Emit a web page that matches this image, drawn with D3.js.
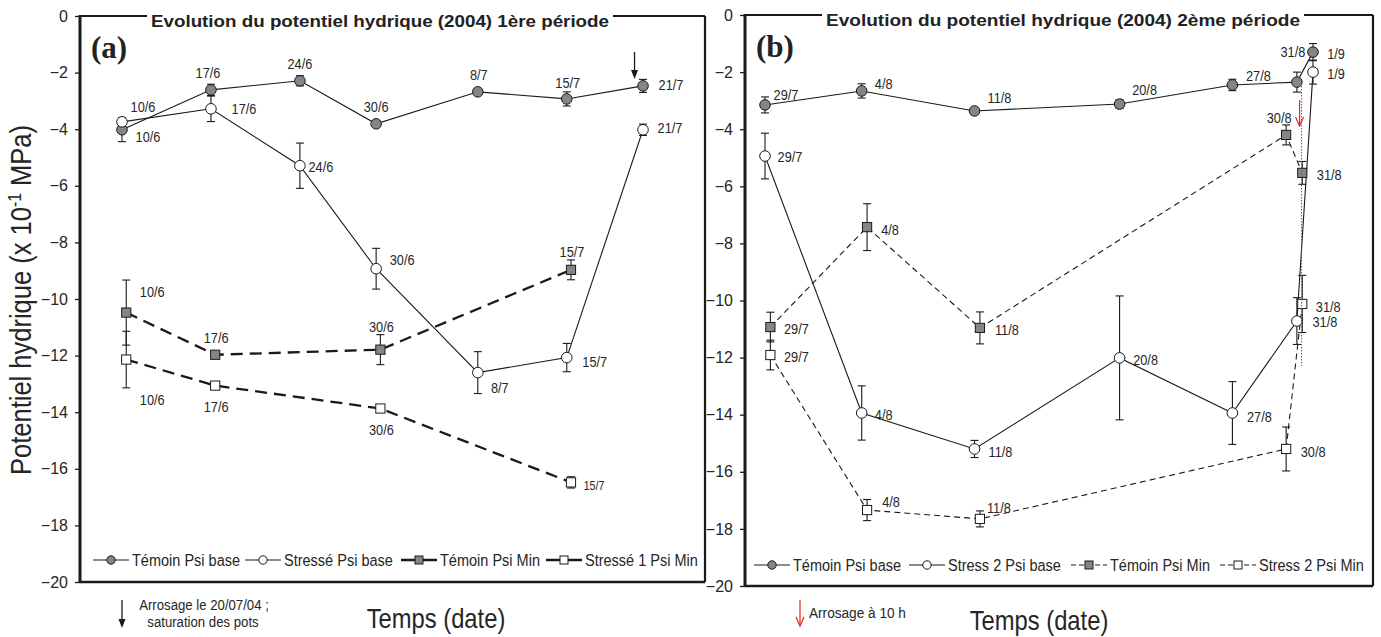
<!DOCTYPE html>
<html><head><meta charset="utf-8">
<script src="https://cdn.jsdelivr.net/npm/d3@7"></script>
<style>body{margin:0;background:#fff}</style>
</head><body>
<svg id="c" width="1381" height="637"></svg>
<script>
// ================= DATA =================
// Panel (a) – 1ère période
const datesBaseA   = ["2004-06-10","2004-06-17","2004-06-24","2004-06-30","2004-07-08","2004-07-15","2004-07-21"];
const labelsBaseA  = ["10/6","17/6","24/6","30/6","8/7","15/7","21/7"];
const temoinBaseA     = [-4.02,-2.61,-2.29,-3.81,-2.68,-2.93,-2.47];
const temoinBaseErrA  = [0.42,0.20,0.18,0.05,0.06,0.25,0.23];
const stresseBaseA    = [-3.74,-3.28,-5.29,-8.93,-12.60,-12.07,-4.02];
const stresseBaseErrA = [0.15,0.45,0.80,0.72,0.74,0.50,0.20];
const datesMinA    = ["2004-06-10","2004-06-17","2004-06-30","2004-07-15"];
const labelsMinA   = ["10/6","17/6","30/6","15/7"];
const temoinMinA      = [-10.48,-11.97,-11.79,-8.97];
const temoinMinErrA   = [1.15,0.10,0.53,0.35];
const stresseMinA     = [-12.14,-13.06,-13.87,-16.48];
const stresseMinErrA  = [1.00,0.10,0.12,0.20];
const legendA = ["Témoin Psi base","Stressé Psi base","Témoin Psi Min","Stressé 1 Psi Min"];
const titleA = "Evolution du potentiel hydrique (2004) 1ère période";
const wateringA = "2004-07-20";
const noteA = ["Arrosage le 20/07/04 ;","saturation des pots"];

// Panel (b) – 2ème période
const datesBaseB   = ["2004-07-29","2004-08-04","2004-08-11","2004-08-20","2004-08-27","2004-08-31","2004-09-01"];
const labelsBaseB  = ["29/7","4/8","11/8","20/8","27/8","31/8","1/9"];
const temoinBaseB     = [-3.15,-2.66,-3.36,-3.12,-2.45,-2.35,-1.30];
const temoinBaseErrB  = [0.28,0.25,0.10,0.15,0.20,0.35,0.30];
const stressBaseB     = [-4.94,-13.94,-15.20,-12.01,-13.94,-10.72,-2.00];
const stressBaseErrB  = [0.80,0.95,0.30,2.17,1.10,0.82,0.42];
const datesMinB    = ["2004-07-29","2004-08-04","2004-08-11","2004-08-30","2004-08-31"];
const labelsMinB   = ["29/7","4/8","11/8","30/8","31/8"];
const temoinMinB      = [-10.93,-7.43,-10.96,-4.20,-5.53];
const temoinMinErrB   = [0.52,0.82,0.56,0.35,0.40];
const stressMinB      = [-11.91,-17.34,-17.65,-15.20,-10.12];
const stressMinErrB   = [0.52,0.37,0.28,0.77,1.00];
const legendB = ["Témoin Psi base","Stress 2 Psi base","Témoin Psi Min","Stress 2 Psi Min"];
const titleB = "Evolution du potentiel hydrique (2004) 2ème période";
const wateringB = "2004-08-31";
const noteB = "Arrosage à 10 h";

const yTicks = [0,-2,-4,-6,-8,-10,-12,-14,-16,-18,-20];
const yTitle = "Potentiel hydrique (x 10";
const xTitle = "Temps (date)";

// ================= LAYOUT / STYLE =================
const svg = d3.select("#c");
const FS = "'Liberation Sans',Arial,sans-serif";
const SQ = 0.88;           // horizontal squeeze of the original's narrow lettering
const TXT = "#262626";
const GRAY = "#858585";
const parse = d3.timeParse("%Y-%m-%d");
const MIN_SHIFT_H = 8;     // Psi Min measured later in the day

function ntext(parent, x, y, str, size, anchor) {
  return parent.append("text")
    .attr("transform",`translate(${x},${y}) scale(${SQ},1)`)
    .attr("text-anchor",anchor||"start").attr("font-family",FS)
    .attr("font-size",size).attr("fill",TXT).text(str);
}

// label offsets [dx, dy(, size)] from the point (layout only)
const offTBA = [[26,7],[-3,-17],[0,-17],[0,-17],[1,-17],[1,-16],[28,-1]];
const offSBA = [[21,-15],[33,0],[21,1],[26,-9],[22,15],[28,4],[27,-2]];
const offTMA = [[26,-21],[1,-17],[1,-23],[1,-18]];
const offSMA = [[26,40],[1,21],[1,21],[23,3,12]];
const offTBB = [[21,-10],[22,-7],[25,-13],[25,-14],[26,-9],[-4,-30],[23,2]];
const offSBB = [[25,1],[22,2],[26,3],[26,2],[27,4],[28,1],[23,2]];
const offTMB = [[26,2],[23,3],[27,2],[-7,-17],[27,2]];
const offSMB = [[26,2],[24,-8],[19,-11],[27,3],[26,3]];

function drawPanel(p) {
  const g = svg.append("g");
  const x = d3.scaleTime().domain([parse(p.dates[0]), parse(p.dates[p.dates.length-1])]).range(p.xr);
  const y = d3.scaleLinear().domain([-20,0]).range([p.bottom, p.top]);
  const tMin = d => d3.timeHour.offset(parse(d), MIN_SHIFT_H);
  const tBase = d => parse(d);

  // frame
  const fr = g.append("g").attr("stroke","#1a1a1a").attr("fill","none");
  fr.append("line").attr("x1",p.left).attr("x2",p.titleL).attr("y1",p.top).attr("y2",p.top).attr("stroke-width",2.2);
  fr.append("line").attr("x1",p.titleR).attr("x2",p.right).attr("y1",p.top).attr("y2",p.top).attr("stroke-width",2.2);
  fr.append("line").attr("x1",p.right).attr("x2",p.right).attr("y1",p.top).attr("y2",p.bottom).attr("stroke-width",2.2);
  fr.append("line").attr("x1",p.left).attr("x2",p.right).attr("y1",p.bottom).attr("y2",p.bottom).attr("stroke-width",2.5);

  // y axis
  const ax = g.append("g").attr("transform",`translate(${p.left},0)`)
    .call(d3.axisLeft(y).tickValues(yTicks).tickSize(5).tickPadding(7).tickFormat(d3.format("d")));
  ax.select(".domain").remove();
  ax.selectAll(".tick line").attr("stroke","#1a1a1a").attr("stroke-width",1.3);
  ax.selectAll(".tick text").attr("font-family",FS).attr("font-size",16).attr("fill",TXT);
  g.append("line").attr("x1",p.left).attr("x2",p.left).attr("y1",p.top-1).attr("y2",p.bottom+1)
    .attr("stroke","#1a1a1a").attr("stroke-width",3);

  // title
  g.append("text").attr("x",(p.titleL+p.titleR)/2).attr("y",p.top+11).attr("text-anchor","middle")
    .attr("font-family",FS).attr("font-weight","bold").attr("font-size",17).attr("fill","#222")
    .attr("textLength",p.titleR-p.titleL-8).attr("lengthAdjust","spacingAndGlyphs").text(p.title);
  g.append("text").attr("x",p.left+11).attr("y",p.top+42).attr("font-family","'Liberation Serif','Times New Roman',serif")
    .attr("font-weight","bold").attr("font-size",31).attr("fill","#222").text(p.tag);

  const series = [
    {d:p.dates, v:p.tb, e:p.tbe, t:tBase, lab:p.labels, off:p.offTB, fill:GRAY, shape:"c", dash:null, w:1.1},
    {d:p.dates, v:p.sb, e:p.sbe, t:tBase, lab:p.labels, off:p.offSB, fill:"#fff", shape:"c", dash:null, w:1.1},
    {d:p.datesMin, v:p.tm, e:p.tme, t:tMin, lab:p.labelsMin, off:p.offTM, fill:GRAY, shape:"s", dash:p.minDash, w:p.minW},
    {d:p.datesMin, v:p.sm, e:p.sme, t:tMin, lab:p.labelsMin, off:p.offSM, fill:"#fff", shape:"s", dash:p.minDash, w:p.minW}
  ];
  const line = d3.line();
  series.forEach(s => {
    const pts = s.d.map((d,i)=>[x(s.t(d)), y(s.v[i])]);
    g.append("path").attr("d",line(pts)).attr("fill","none").attr("stroke","#1a1a1a")
      .attr("stroke-width",s.w).attr("stroke-dasharray",s.dash);
  });
  series.forEach(s => {
    s.d.forEach((d,i)=>{
      const cx = x(s.t(d)), y1 = y(s.v[i]+s.e[i]), y2 = y(s.v[i]-s.e[i]);
      const eg = g.append("g").attr("stroke","#1a1a1a").attr("stroke-width",1.1);
      eg.append("line").attr("x1",cx).attr("x2",cx).attr("y1",y1).attr("y2",y2);
      eg.append("line").attr("x1",cx-4).attr("x2",cx+4).attr("y1",y1).attr("y2",y1);
      eg.append("line").attr("x1",cx-4).attr("x2",cx+4).attr("y1",y2).attr("y2",y2);
    });
  });
  series.forEach(s => {
    s.d.forEach((d,i)=>{
      const cx = x(s.t(d)), cy = y(s.v[i]);
      if (s.shape==="c") g.append("circle").attr("cx",cx).attr("cy",cy).attr("r",5.3)
        .attr("fill",s.fill).attr("stroke","#1a1a1a").attr("stroke-width",1);
      else g.append("rect").attr("x",cx-4.6).attr("y",cy-4.6).attr("width",9.2).attr("height",9.2)
        .attr("fill",s.fill).attr("stroke","#1a1a1a").attr("stroke-width",1);
      const o = s.off[i];
      ntext(g, cx+o[0], cy+o[1]+5, s.lab[i], o[2]||14.5, "middle");
    });
  });

  // legend
  const lg = g.append("g");
  p.legend.forEach((name,i)=>{
    const lx = p.legX[i], ly = p.legY;
    const s = series[i];
    lg.append("line").attr("x1",lx).attr("x2",lx+36).attr("y1",ly).attr("y2",ly)
      .attr("stroke","#1a1a1a").attr("stroke-width",i>=2?p.legMinW:1.1).attr("stroke-dasharray",i>=2?p.legDash:null);
    if (s.shape==="c") lg.append("circle").attr("cx",lx+18).attr("cy",ly).attr("r",4.2)
      .attr("fill",s.fill).attr("stroke","#1a1a1a").attr("stroke-width",1);
    else lg.append("rect").attr("x",lx+14).attr("y",ly-4).attr("width",8).attr("height",8)
      .attr("fill",s.fill).attr("stroke","#1a1a1a").attr("stroke-width",1);
    ntext(lg, lx+39, ly+6, name, 16.5);
  });

  // x title
  ntext(g, p.xTitleX, p.xTitleY, xTitle, 27, "middle");
  return {g,x,y};
}

// ---- Panel (a)
const A = drawPanel({
  dates:datesBaseA, labels:labelsBaseA, datesMin:datesMinA, labelsMin:labelsMinA,
  tb:temoinBaseA, tbe:temoinBaseErrA, sb:stresseBaseA, sbe:stresseBaseErrA,
  tm:temoinMinA, tme:temoinMinErrA, sm:stresseMinA, sme:stresseMinErrA,
  offTB:offTBA, offSB:offSBA, offTM:offTMA, offSM:offSMA,
  xr:[122,643], left:80, right:705, top:16, bottom:582, titleL:147, titleR:613,
  title:titleA, tag:"(a)", minDash:"12,7", minW:2.3, legend:legendA,
  legX:[93,245,401,546], legY:560, legMinW:2.3, legDash:null, xTitleX:436, xTitleY:628
});
// watering arrows (a)
{
  const ax = A.x(d3.timeHour.offset(parse(wateringA),8));
  const gg = A.g.append("g").attr("stroke","#1a1a1a").attr("fill","#1a1a1a");
  gg.append("line").attr("x1",ax).attr("x2",ax).attr("y1",52).attr("y2",72).attr("stroke-width",1.3);
  gg.append("path").attr("d",`M${ax-3.5},70 L${ax+3.5},70 L${ax},79 Z`).attr("stroke","none");
  const bx = 122;
  gg.append("line").attr("x1",bx).attr("x2",bx).attr("y1",600).attr("y2",621).attr("stroke-width",1.3);
  gg.append("path").attr("d",`M${bx-3.5},619 L${bx+3.5},619 L${bx},628 Z`).attr("stroke","none");
  ntext(A.g, 204, 610, noteA[0], 15, "middle");
  ntext(A.g, 203, 627, noteA[1], 15, "middle");
}
// y title
{
  const t = svg.append("text").attr("transform",`translate(31,300) rotate(-90) scale(${SQ},1)`).attr("text-anchor","middle")
    .attr("font-family",FS).attr("font-size",29).attr("fill",TXT);
  t.append("tspan").text(yTitle);
  t.append("tspan").attr("dy",-10).attr("font-size",18).text("-1");
  t.append("tspan").attr("dy",10).text(" MPa)");
}

// ---- Panel (b)
const B = drawPanel({
  dates:datesBaseB, labels:labelsBaseB, datesMin:datesMinB, labelsMin:labelsMinB,
  tb:temoinBaseB, tbe:temoinBaseErrB, sb:stressBaseB, sbe:stressBaseErrB,
  tm:temoinMinB, tme:temoinMinErrB, sm:stressMinB, sme:stressMinErrB,
  offTB:offTBB, offSB:offSBB, offTM:offTMB, offSM:offSMB,
  xr:[765,1313], left:745, right:1373, top:15, bottom:586, titleL:822, titleR:1304,
  title:titleB, tag:"(b)", minDash:"6,4", minW:1.1, legend:legendB,
  legX:[754,909,1071,1220], legY:565, legMinW:1.1, legDash:"5,3", xTitleX:1039, xTitleY:630
});
{
  const rx = B.x(d3.timeHour.offset(parse(wateringB),4));
  B.g.append("line").attr("x1",rx+2).attr("x2",rx+2).attr("y1",83).attr("y2",366)
    .attr("stroke","#e8231f").attr("stroke-width",1).attr("stroke-dasharray","1.5,1.5");
  const ar = (xx,y1,y2)=>{
    B.g.append("line").attr("x1",xx).attr("x2",xx).attr("y1",y1).attr("y2",y2).attr("stroke","#e8231f").attr("stroke-width",1.2);
    B.g.append("path").attr("d",`M${xx-4},${y2-9} L${xx},${y2} L${xx+4},${y2-9}`).attr("fill","none")
      .attr("stroke","#e8231f").attr("stroke-width",1.2);
  };
  ar(rx,100,126);
  ar(800,600,626);
  ntext(B.g, 809, 618, noteB, 15.5);
}
</script>
</body></html>
